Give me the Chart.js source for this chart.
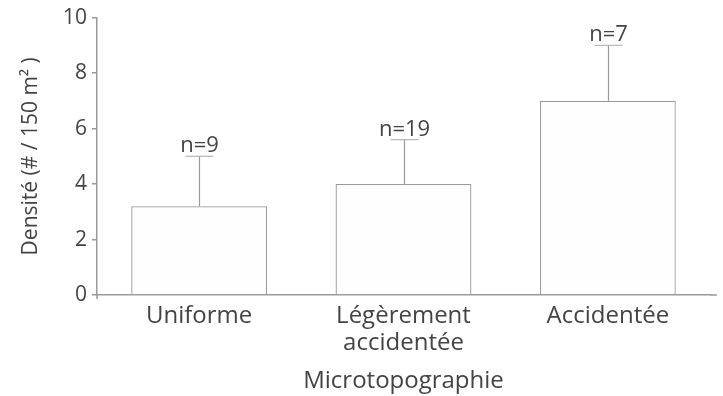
<!DOCTYPE html>
<html>
<head>
<meta charset="utf-8">
<script src="https://cdn.jsdelivr.net/npm/chart.js@4.4.1/dist/chart.umd.min.js"></script>
<style>
  html, body { margin: 0; padding: 0; background: #ffffff; }
  #wrap { width: 723px; height: 396px; position: relative; }
</style>
</head>
<body>
<div id="wrap"><canvas id="chart"></canvas></div>
<script>
// Density by micro-topography class, with upper error bar and sample size
const categories = [['Uniforme'], ['Légèrement', 'accidentée'], ['Accidentée']];
const density = [3.2, 4.0, 7.0];
const errorTop = [5.0, 5.6, 9.0];
const sampleLabels = ['n=9', 'n=19', 'n=7'];
const yTicks = [0, 2, 4, 6, 8, 10];

const LINE = '#9a9a9a';
const TEXT = '#444444';
const FONT = "'Open Sans', 'Noto Sans', sans-serif";

// Upper error whiskers with a short cap, and the n= label above each one
const errorBars = {
  id: 'errorBars',
  afterDatasetsDraw(chart) {
    const ctx = chart.ctx;
    const y = chart.scales.y;
    const meta = chart.getDatasetMeta(0);
    ctx.save();
    meta.data.forEach((bar, i) => {
      const x = Math.round(bar.x) + 0.5;
      const yBar = y.getPixelForValue(density[i]);
      const yErr = y.getPixelForValue(errorTop[i]);
      ctx.strokeStyle = LINE;
      ctx.lineWidth = 1.2;
      ctx.beginPath();
      ctx.moveTo(x, yBar);
      ctx.lineTo(x, yErr);
      ctx.stroke();
      ctx.strokeStyle = '#b5b5b5';
      ctx.beginPath();
      ctx.moveTo(x - 14, yErr);
      ctx.lineTo(x + 14, yErr);
      ctx.stroke();
      ctx.fillStyle = TEXT;
      ctx.font = '22px ' + FONT;
      ctx.textAlign = 'center';
      ctx.textBaseline = 'alphabetic';
      ctx.fillText(sampleLabels[i], x, yErr - 4);
    });
    ctx.restore();
  }
};

// The horizontal axis line runs a few pixels past the last category
const axisRun = {
  id: 'axisRun',
  afterDraw(chart) {
    const a = chart.chartArea;
    const ctx = chart.ctx;
    ctx.save();
    ctx.strokeStyle = LINE;
    ctx.lineWidth = 1.5;
    ctx.beginPath();
    ctx.moveTo(a.right, a.bottom);
    ctx.lineTo(a.right + 7, a.bottom);
    ctx.moveTo(a.left, a.bottom);
    ctx.lineTo(a.left, a.bottom + 4);
    ctx.stroke();
    ctx.restore();
  }
};

new Chart(document.getElementById('chart'), {
  type: 'bar',
  data: {
    labels: categories,
    datasets: [{
      data: density,
      backgroundColor: '#fefefe',
      borderColor: LINE,
      borderWidth: 1.3,
      categoryPercentage: 1,
      barPercentage: 0.665
    }]
  },
  options: {
    responsive: true,
    maintainAspectRatio: false,
    animation: false,
    layout: { padding: { top: 15, right: 13, left: 0, bottom: 0 } },
    plugins: {
      legend: { display: false },
      tooltip: { enabled: false }
    },
    scales: {
      x: {
        grid: { display: true, drawOnChartArea: false, drawTicks: false },
        border: { display: true, color: LINE, width: 1.5 },
        ticks: {
          color: TEXT,
          font: { family: FONT, size: 24, lineHeight: 1.12 },
          padding: 8,
          maxRotation: 0,
          autoSkip: false
        },
        title: {
          display: true,
          text: 'Microtopographie',
          color: TEXT,
          font: { family: FONT, size: 24 },
          padding: { top: 8, bottom: 0 }
        },
        afterFit(scale) { scale.height = 101; }
      },
      y: {
        min: 0,
        max: 10,
        afterBuildTicks(scale) { scale.ticks = yTicks.map(v => ({ value: v })); },
        grid: { display: true, drawOnChartArea: false, drawTicks: true, tickLength: 5, color: LINE, lineWidth: 1.5 },
        border: { display: true, color: LINE, width: 1.5 },
        ticks: {
          color: TEXT,
          font: { family: FONT, size: 21 },
          padding: 5
        },
        title: {
          display: true,
          text: 'Densité (# / 150 m² )',
          color: TEXT,
          font: { family: FONT, size: 21 },
          padding: { top: 18, bottom: 6 }
        },
        afterFit(scale) { scale.width = 97; }
      }
    }
  },
  plugins: [errorBars, axisRun]
});
</script>
</body>
</html>
